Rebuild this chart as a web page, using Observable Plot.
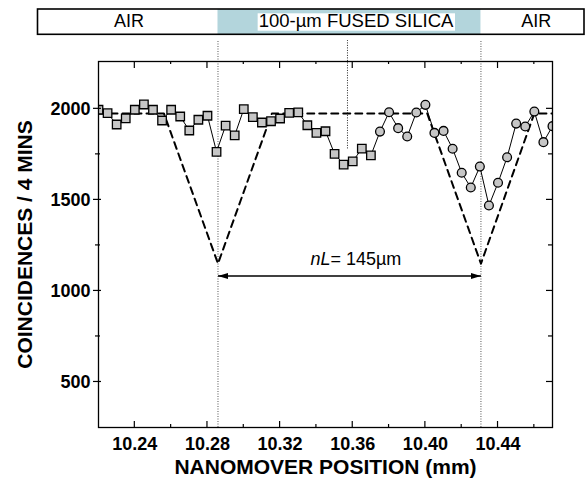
<!DOCTYPE html>
<html>
<head>
<meta charset="utf-8">
<script src="https://cdn.jsdelivr.net/npm/d3@7"></script>
<script src="https://cdn.jsdelivr.net/npm/@observablehq/plot@0.6"></script>
<style>
  html, body { margin: 0; padding: 0; background: #fff; }
  #chart svg { display: block; overflow: visible; }
</style>
</head>
<body>
<div id="chart"></div>
<script>
// ---------- data ----------
const squarePos = [10.22, 10.225, 10.23, 10.235, 10.24, 10.245, 10.25, 10.255, 10.26, 10.265,
                   10.27, 10.275, 10.28, 10.285, 10.29, 10.295, 10.30, 10.305, 10.31, 10.315,
                   10.32, 10.325, 10.33, 10.335, 10.34, 10.345, 10.35, 10.355, 10.36, 10.365, 10.37];
const squareVal = [1995, 1976, 1914, 1948, 1995, 2024, 1995, 1936, 1995, 1958,
                   1881, 1940, 1962, 1764, 1908, 1854, 1998, 1954, 1925, 1932,
                   1947, 1978, 1981, 1910, 1868, 1877, 1753, 1694, 1712, 1781, 1744];
const circlePos = [10.375, 10.38, 10.385, 10.39, 10.395, 10.40, 10.405, 10.41, 10.415, 10.42,
                   10.425, 10.43, 10.435, 10.44, 10.445, 10.45, 10.455, 10.46, 10.465, 10.47];
const circleVal = [1875, 1981, 1894, 1848, 1980, 2022, 1868, 1879, 1781, 1649,
                   1568, 1683, 1469, 1594, 1734, 1919, 1903, 1985, 1817, 1905];
// dashed model curve
const modelPos = [10.22, 10.256, 10.2858, 10.3155, 10.401, 10.4306, 10.46, 10.47];
const modelVal = [1975, 1975, 1150, 1975, 1975, 1150, 1975, 1975];
// annotations
const interfaces = [10.2858, 10.4306];   // air / silica boundaries
const centerPos = 10.3571;
const centerLineBottom = 1780;
const ruleTop = 2375;
const spanArrowVal = 1082;
const spanLabelPos = 10.362;
const spanLabelVal = 1140;
const regionLabels = ["AIR", "100-\u00B5m FUSED SILICA", "AIR"];
// axes
const xDomain = [10.22, 10.47];
const yDomain = [250, 2260];
const xTicks = [10.24, 10.28, 10.32, 10.36, 10.40, 10.44];
const xMinorTicks = [10.26, 10.30, 10.34, 10.38, 10.42, 10.46];
const yTicks = [500, 1000, 1500, 2000];
const yMinorTicks = [750, 1250, 1750];
const xTitle = "NANOMOVER POSITION (mm)";
const yTitle = "COINCIDENCES / 4 MINS";

// ---------- build ----------
const FONT = "'Liberation Sans', Arial, Helvetica, sans-serif";
const squares = squarePos.map((x, i) => ({x, y: squareVal[i]}));
const circles = circlePos.map((x, i) => ({x, y: circleVal[i]}));
const series = squares.concat(circles);
const model = modelPos.map((x, i) => ({x, y: modelVal[i]}));
const span = [{x1: interfaces[0], x2: interfaces[1], y: spanArrowVal}];

const plot = Plot.plot({
  width: 586,
  height: 486,
  marginLeft: 98,
  marginRight: 34,
  marginTop: 61,
  marginBottom: 59,
  x: {domain: xDomain, axis: null},
  y: {domain: yDomain, axis: null},
  style: {fontFamily: FONT, background: "white", color: "black", overflow: "visible"},
  marks: [
    Plot.ruleX(interfaces, {x: d => d, y1: yDomain[0], y2: ruleTop, stroke: "#555", strokeWidth: 1, strokeDasharray: "1,1.5"}),
    Plot.ruleX([centerPos], {x: d => d, y1: centerLineBottom, y2: ruleTop, stroke: "#222", strokeWidth: 1, strokeDasharray: "1,1.5"}),
    Plot.line(model, {x: "x", y: "y", stroke: "black", strokeWidth: 2, strokeDasharray: "7,5", clip: true}),
    Plot.line(series, {x: "x", y: "y", stroke: "black", strokeWidth: 1, clip: true}),
    Plot.dot(squares, {x: "x", y: "y", symbol: "square", r: 4.8, fill: "#c6c6c6", stroke: "black", strokeWidth: 1.3, clip: true}),
    Plot.dot(circles, {x: "x", y: "y", symbol: "circle", r: 4.4, fill: "#c6c6c6", stroke: "black", strokeWidth: 1.3, clip: true}),
    Plot.link(span, {x1: "x1", x2: "x2", y1: "y", y2: "y", stroke: "black", strokeWidth: 1.6}),
    // tick labels
    Plot.text(xTicks, {x: d => d, frameAnchor: "bottom", lineAnchor: "top", dy: 10,
      text: d => d.toFixed(2), fontSize: 18, fontWeight: "bold", fill: "black"}),
    Plot.text(yTicks, {y: d => d, frameAnchor: "left", textAnchor: "end", dx: -8,
      text: d => String(d), fontSize: 18, fontWeight: "bold", fill: "black"}),
    // axis titles
    Plot.text([xTitle], {frameAnchor: "bottom", dy: 46, text: d => d, fontSize: 21, fontWeight: "bold", fill: "black"}),
    Plot.text([yTitle], {frameAnchor: "left", textAnchor: "middle", dx: -73, rotate: -90, text: d => d, fontSize: 21, fontWeight: "bold", fill: "black"}),
    Plot.frame({stroke: "black", strokeWidth: 1.3})
  ]
});

document.getElementById("chart").appendChild(plot);

// ---------- annotations using the plot's scales ----------
const svg = d3.select(plot);
const xs = plot.scale("x"), ys = plot.scale("y");
const X = xs.apply ? v => xs.apply(v) : d3.scaleLinear(xs.domain, xs.range);
const Y = ys.apply ? v => ys.apply(v) : d3.scaleLinear(ys.domain, ys.range);
const [L, R] = [X(xDomain[0]), X(xDomain[1])];
const [B, T] = [Y(yDomain[0]), Y(yDomain[1])];

// inward frame ticks
const tk = svg.append("g").attr("stroke", "black").attr("stroke-width", 1.2);
const seg = (x1, y1, x2, y2) => tk.append("line").attr("x1", x1).attr("y1", y1).attr("x2", x2).attr("y2", y2);
xTicks.forEach(v => { seg(X(v), B, X(v), B - 6); seg(X(v), T, X(v), T + 7); });
xMinorTicks.forEach(v => { seg(X(v), B, X(v), B - 3); seg(X(v), T, X(v), T + 3); });
yTicks.forEach(v => { seg(L - 5, Y(v), L + 3, Y(v)); seg(R, Y(v), R - 6, Y(v)); });
yMinorTicks.forEach(v => { seg(L - 3, Y(v), L + 2, Y(v)); seg(R, Y(v), R - 4, Y(v)); });

// arrowheads for the double arrow
svg.append("defs").append("marker")
  .attr("id", "ah").attr("viewBox", "0 0 10 6").attr("refX", 10).attr("refY", 3)
  .attr("markerWidth", 10).attr("markerHeight", 6)
  .attr("markerUnits", "userSpaceOnUse").attr("orient", "auto-start-reverse")
  .append("path").attr("d", "M0,0L10,3L0,6Z").attr("fill", "black");
svg.selectAll('g[aria-label="link"] path')
  .attr("marker-start", "url(#ah)").attr("marker-end", "url(#ah)");

// nL = 145 µm label
const lab = svg.append("text")
  .attr("x", X(spanLabelPos)).attr("y", Y(spanLabelVal))
  .attr("text-anchor", "middle")
  .style("font-family", FONT).style("font-size", "18px").attr("fill", "black");
lab.append("tspan").style("font-style", "italic").text("nL");
lab.append("tspan").text("= 145\u00B5m");

// header band: AIR | FUSED SILICA | AIR
const hx0 = 37.5, hx1 = 584, hy0 = 9, hy1 = 34.3;
const head = svg.append("g");
head.append("rect").attr("x", hx0).attr("y", hy0).attr("width", hx1 - hx0).attr("height", hy1 - hy0)
  .attr("fill", "white");
head.append("rect").attr("x", X(interfaces[0])).attr("y", hy0)
  .attr("width", X(interfaces[1]) - X(interfaces[0])).attr("height", hy1 - hy0)
  .attr("fill", "#b3d5dc");
head.append("rect").attr("x", hx0).attr("y", hy0).attr("width", hx1 - hx0).attr("height", hy1 - hy0)
  .attr("fill", "none").attr("stroke", "black").attr("stroke-width", 1.6);
const labelX = [(hx0 + X(interfaces[0])) / 2 + 1.5, 356, (X(interfaces[1]) + hx1) / 2 + 4];
regionLabels.forEach((t, i) => {
  const txt = head.append("text").attr("x", labelX[i]).attr("y", 27.3)
    .attr("text-anchor", "middle")
    .style("font-family", FONT).style("font-size", i === 1 ? "18.5px" : "18px").attr("fill", "black").text(t);
  if (i === 1) {
    const b = txt.node().getBBox();
    head.insert("rect", () => txt.node())
      .attr("x", b.x - 1).attr("y", 13.3).attr("width", b.width + 2).attr("height", 17.4)
      .attr("fill", "white");
  }
});
</script>
</body>
</html>
